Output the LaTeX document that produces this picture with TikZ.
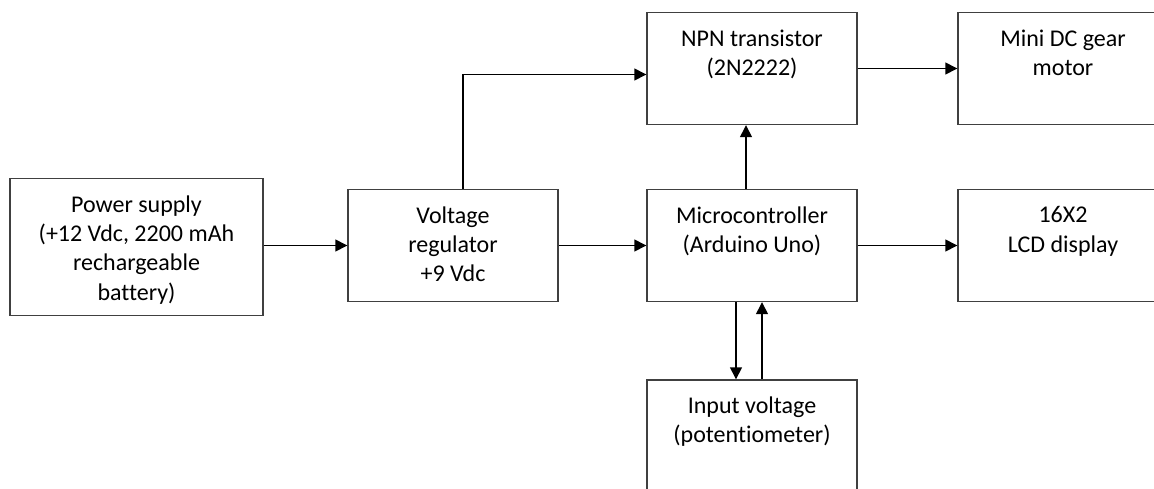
\documentclass[tikz,border=0pt]{standalone}
\usepackage{fontspec}
\setmainfont{Carlito}[Ligatures=NoCommon]
\usetikzlibrary{arrows.meta}

\begin{document}
\begin{tikzpicture}[x=1pt,y=1pt,line join=miter,>={Triangle[length=12pt,width=12pt]},every node/.style={inner sep=0pt},
  blockbox/.style={draw=black!75,line width=1.4pt,minimum width=210pt,minimum height=112pt},
  blocktext/.style={anchor=north,align=center,font=\fontsize{24}{29.3}\selectfont,execute at begin node=\strut},
  link/.style={->,line width=1.4pt}]
  \useasboundingbox (0,0) rectangle (1154,-488);
  \clip (0,0) rectangle (1154,-488);
  % blocks
  \node[blockbox,minimum width=253pt,minimum height=137pt] (supply) at (136.5,-247) {};
  \node[blockbox] (regulator) at (453,-245.5) {};
  \node[blockbox] (transistor) at (752,-68.5) {};
  \node[blockbox] (mcu) at (752,-245.5) {};
  \node[blockbox] (motor) at (1063,-68.5) {};
  \node[blockbox] (lcd) at (1063,-245.5) {};
  \node[blockbox] (pot) at (752,-436) {};
  % texts
  \node[blocktext] (supplytext) at ([yshift=-17.5pt]supply.north) {Power supply\\(+12 Vdc, 2200 mAh\\rechargeable\\battery)};
  \node[blocktext] (regulatortext) at ([yshift=-17.5pt]regulator.north) {Voltage\\regulator\\+9 Vdc};
  \node[blocktext] (transistortext) at ([yshift=-17.5pt]transistor.north) {NPN transistor\\(2N2222)};
  \node[blocktext] (mcutext) at ([yshift=-17.5pt]mcu.north) {Microcontroller\\(Arduino Uno)};
  \node[blocktext] (motortext) at ([yshift=-17.5pt]motor.north) {Mini DC gear\\motor};
  \node[blocktext] (lcdtext) at ([yshift=-17.5pt]lcd.north) {16X2\\LCD display};
  \node[blocktext] (pottext) at ([yshift=-17.5pt]pot.north) {Input voltage\\(potentiometer)};
  % connectors
  \coordinate (regup) at ([xshift=10pt]regulator.north);
  \coordinate (trin) at ([yshift=-6pt]transistor.west);
  \coordinate (mcuup) at ([xshift=-6pt]mcu.north);
  \coordinate (mcudown) at ([xshift=-16pt]mcu.south);
  \coordinate (potup) at ([xshift=10pt]pot.north);
  \draw[link] (supply.east |- regulator.west) -- (regulator.west);
  \draw[link] (regup) |- (trin);
  \draw[link] (regulator.east) -- (mcu.west);
  \draw[link] (mcuup) -- (mcuup |- transistor.south);
  \draw[link] (transistor.east) -- (motor.west);
  \draw[link] (mcu.east) -- (lcd.west);
  \draw[link] (mcudown) -- (mcudown |- pot.north);
  \draw[link] (potup) -- (potup |- mcu.south);
\end{tikzpicture}
\end{document}
